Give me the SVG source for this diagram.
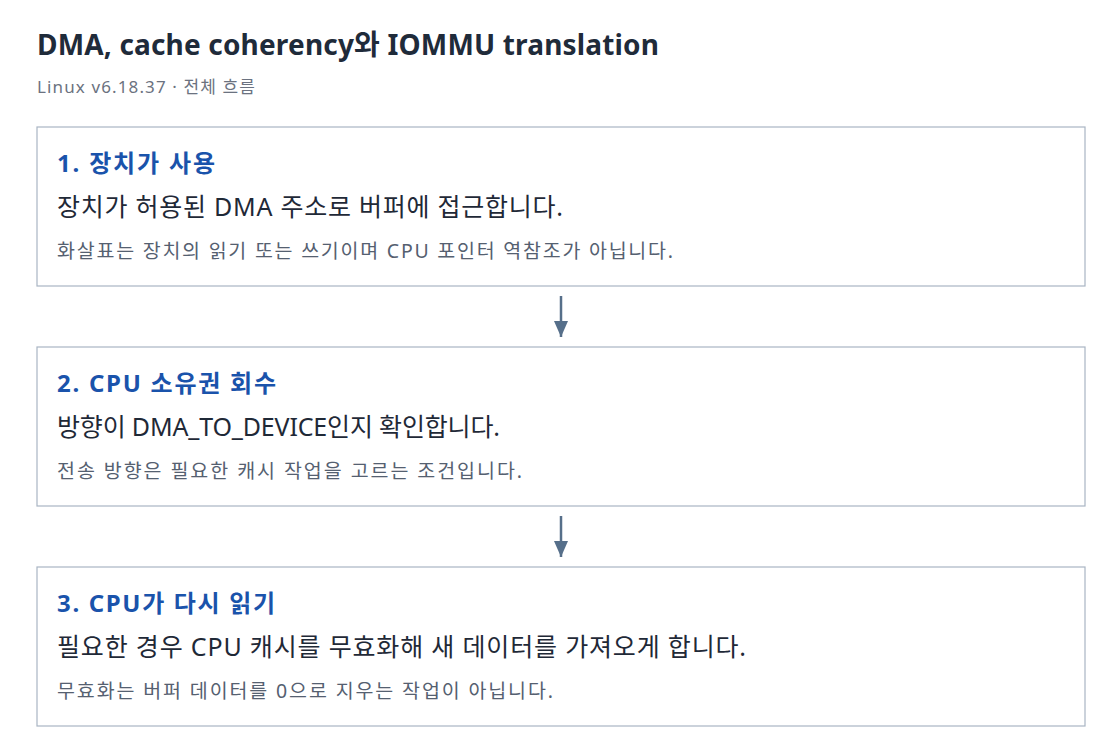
<svg xmlns="http://www.w3.org/2000/svg" width="1120" height="754" viewBox="0 0 1120 754">
<style>
text{font-family:"Noto Sans","Noto Sans CJK KR",sans-serif}
.title{font-size:28px;font-weight:700;fill:#1f2b3a}
.sub{font-size:17px;fill:#6b7280}
.box{fill:#ffffff;stroke:#a9b5c3;stroke-width:1.2}
.h{font-size:24px;font-weight:700;fill:#1a53ab}
.m{font-size:25px;fill:#1f2937}
.n{font-size:19.5px;fill:#556070}
.edge{stroke:#566f8a;stroke-width:2.5;fill:none}
.head{fill:#566f8a}
</style>
<defs>
<marker id="arr" viewBox="0 0 16 14" refX="16" refY="7" markerWidth="16" markerHeight="14" markerUnits="userSpaceOnUse" orient="auto">
<path d="M0,0 L16,7 L0,14 Z" class="head"/>
</marker>
</defs>
<rect width="1120" height="754" fill="#ffffff"/>
<text class="title" x="37" y="55" textLength="622" lengthAdjust="spacing">DMA, cache coherency와 IOMMU translation</text>
<text class="sub" x="37" y="93" textLength="218" lengthAdjust="spacing">Linux v6.18.37 · 전체 흐름</text>
<g id="node1">
<rect class="box" x="37" y="127" width="1048" height="159"/>
<text class="h" x="57" y="172" textLength="158" lengthAdjust="spacing">1. 장치가 사용</text>
<text class="m" x="57" y="216" textLength="506" lengthAdjust="spacing">장치가 허용된 DMA 주소로 버퍼에 접근합니다.</text>
<text class="n" x="57" y="258" textLength="616" lengthAdjust="spacing">화살표는 장치의 읽기 또는 쓰기이며 CPU 포인터 역참조가 아닙니다.</text>
</g>
<g id="node2">
<rect class="box" x="37" y="347" width="1048" height="159"/>
<text class="h" x="57" y="392" textLength="219" lengthAdjust="spacing">2. CPU 소유권 회수</text>
<text class="m" x="57" y="436" textLength="443" lengthAdjust="spacing">방향이 DMA_TO_DEVICE인지 확인합니다.</text>
<text class="n" x="57" y="478" textLength="465" lengthAdjust="spacing">전송 방향은 필요한 캐시 작업을 고르는 조건입니다.</text>
</g>
<g id="node3">
<rect class="box" x="37" y="567" width="1048" height="159"/>
<text class="h" x="57" y="612" textLength="218" lengthAdjust="spacing">3. CPU가 다시 읽기</text>
<text class="m" x="57" y="656" textLength="689" lengthAdjust="spacing">필요한 경우 CPU 캐시를 무효화해 새 데이터를 가져오게 합니다.</text>
<text class="n" x="57" y="698" textLength="496" lengthAdjust="spacing">무효화는 버퍼 데이터를 0으로 지우는 작업이 아닙니다.</text>
</g>
<g id="connectors">
<path class="edge" d="M561,296 V337" marker-end="url(#arr)"/>
<path class="edge" d="M561,516 V557" marker-end="url(#arr)"/>
</g>
</svg>
